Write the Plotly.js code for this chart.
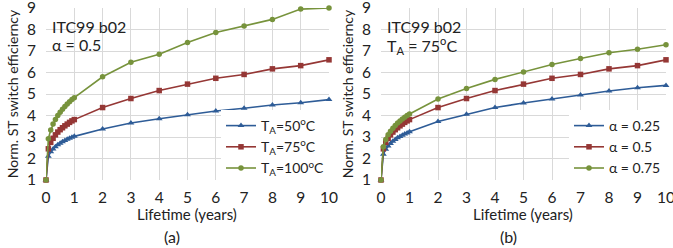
<!DOCTYPE html>
<html>
<head>
<meta charset="utf-8">
<script src="https://cdn.plot.ly/plotly-3.0.1.min.js"></script>
<style>html,body{margin:0;padding:0;background:#fff;}#chart{width:673px;height:248px;}</style>
</head>
<body>
<div id="chart"></div>
<script>
// Lifetime in years (monthly during first year, then yearly)
const lifetime = [0, 0.083, 0.167, 0.25, 0.333, 0.417, 0.5, 0.583, 0.667, 0.75, 0.833, 0.917, 1, 2, 3, 4, 5, 6, 7, 8, 9, 10];

// Panel (a): alpha = 0.5, varying T_A
const ta50  = [1, 2.10, 2.31, 2.44, 2.55, 2.64, 2.71, 2.78, 2.84, 2.89, 2.94, 2.99, 3.03, 3.37, 3.65, 3.85, 4.04, 4.21, 4.34, 4.49, 4.59, 4.74];
const ta75  = [1, 2.45, 2.75, 2.94, 3.10, 3.23, 3.34, 3.43, 3.52, 3.60, 3.68, 3.75, 3.81, 4.37, 4.79, 5.16, 5.46, 5.73, 5.91, 6.17, 6.32, 6.59];
const ta100 = [1, 2.92, 3.32, 3.60, 3.81, 4.00, 4.15, 4.29, 4.42, 4.54, 4.64, 4.74, 4.83, 5.80, 6.48, 6.85, 7.39, 7.86, 8.16, 8.47, 8.95, 9.00];

// Panel (b): T_A = 75 C, varying alpha
const a025 = [1, 2.20, 2.43, 2.58, 2.70, 2.80, 2.88, 2.96, 3.02, 3.08, 3.14, 3.19, 3.24, 3.72, 4.06, 4.37, 4.58, 4.77, 4.95, 5.14, 5.29, 5.40];
const a050 = ta75;
const a075 = [1, 2.55, 2.88, 3.10, 3.27, 3.41, 3.54, 3.65, 3.75, 3.84, 3.92, 4.00, 4.07, 4.77, 5.26, 5.68, 6.02, 6.37, 6.65, 6.92, 7.08, 7.29];

const namesA = ['T<sub>A</sub>=50<sup>o</sup>C', 'T<sub>A</sub>=75<sup>o</sup>C', 'T<sub>A</sub>=100<sup>o</sup>C'];
const namesB = ['\u03B1 = 0.25', '\u03B1 = 0.5', '\u03B1 = 0.75'];
const xTicks = [0,1,2,3,4,5,6,7,8,9,10];
const yTicks = [1,2,3,4,5,6,7,8,9];
const xTitle = 'Lifetime (years)';
const yTitle = 'Norm. ST switch efficierncy';

const colors = ['#2E5C97', '#953735', '#77933C'];
const symbols = ['triangle-up', 'square', 'circle'];

function mk(y, i, name, xa, ya, lg) {
  return {
    x: lifetime, y: y, name: name, type: 'scatter', mode: 'lines+markers',
    xaxis: xa, yaxis: ya, legend: lg, cliponaxis: false,
    line: {color: colors[i], width: 1.6},
    marker: {color: colors[i], symbol: symbols[i], size: i === 0 ? 6 : 5.5}
  };
}

const data = [
  mk(ta50, 0, namesA[0], 'x', 'y', 'legend'),
  mk(ta75, 1, namesA[1], 'x', 'y', 'legend'),
  mk(ta100, 2, namesA[2], 'x', 'y', 'legend'),
  mk(a025, 0, namesB[0], 'x2', 'y2', 'legend2'),
  mk(a050, 1, namesB[1], 'x2', 'y2', 'legend2'),
  mk(a075, 2, namesB[2], 'x2', 'y2', 'legend2')
];

const font = {family: 'Lato, "Liberation Sans", sans-serif', size: 14, color: '#222'};
const grid = '#d9d9d9';

function xax(dom, anchor) {
  return {
    domain: dom, anchor: anchor, range: [0, 10], tickvals: xTicks, ticktext: xTicks.map(String),
    showgrid: true, gridcolor: grid, gridwidth: 1, zeroline: false, showline: false,
    ticks: '', ticklabelstandoff: 6, ticklabeloverflow: 'allow', tickfont: {size: 15.5, color: '#222'}
  };
}
function yax(dom, anchor) {
  return {
    domain: dom, anchor: anchor, range: [1, 9], tickvals: yTicks, ticktext: yTicks.map(String),
    showgrid: true, gridcolor: grid, gridwidth: 1, zeroline: false, showline: false,
    ticks: '', ticklabelstandoff: 9, ticklabeloverflow: 'allow', tickfont: {size: 15.5, color: '#222'},
    title: {text: yTitle, font: {size: 14, color: '#222'}, standoff: 5}
  };
}

const yDom = [(248 - 180) / 248, (248 - 8) / 248];
const legFont = {size: 14, color: '#222'};

function ann(text, x, y, anchor, size) {
  return {text: text, xref: 'paper', yref: 'paper', x: x / 673, y: (248 - y) / 248,
          xanchor: anchor, yanchor: 'middle', showarrow: false, font: {size: size, color: '#222'}};
}

const layout = {
  width: 673, height: 248,
  margin: {l: 0, r: 0, t: 0, b: 0},
  paper_bgcolor: '#fff', plot_bgcolor: '#fff',
  font: font,
  showlegend: true,
  xaxis: xax([46 / 673, 329 / 673], 'y'),
  yaxis: yax(yDom, 'x'),
  xaxis2: xax([381 / 673, 666 / 673], 'y2'),
  yaxis2: yax(yDom, 'x2'),
  legend: {
    x: 329 / 673, xanchor: 'right', y: (248 - 110) / 248, yanchor: 'top',
    bgcolor: '#fff', borderwidth: 0, font: legFont, tracegroupgap: 0, itemwidth: 30
  },
  legend2: {
    x: 666 / 673, xanchor: 'right', y: (248 - 110) / 248, yanchor: 'top',
    bgcolor: '#fff', borderwidth: 0, font: legFont, tracegroupgap: 0, itemwidth: 30
  },
  annotations: [
    ann('ITC99 b02', 50, 26, 'left', 16),
    ann('\u03B1 = 0.5', 50, 45, 'left', 16),
    ann('ITC99 b02', 385, 26, 'left', 16),
    ann('T<sub>A</sub> = 75<sup>o</sup>C', 385, 46, 'left', 16),
    ann(xTitle, 187, 214, 'center', 15),
    ann(xTitle, 523, 214, 'center', 15),
    ann('(a)', 172, 236, 'center', 16),
    ann('(b)', 508, 236, 'center', 16)
  ]
};

Plotly.newPlot('chart', data, layout, {displayModeBar: false, staticPlot: true});
</script>
</body>
</html>
